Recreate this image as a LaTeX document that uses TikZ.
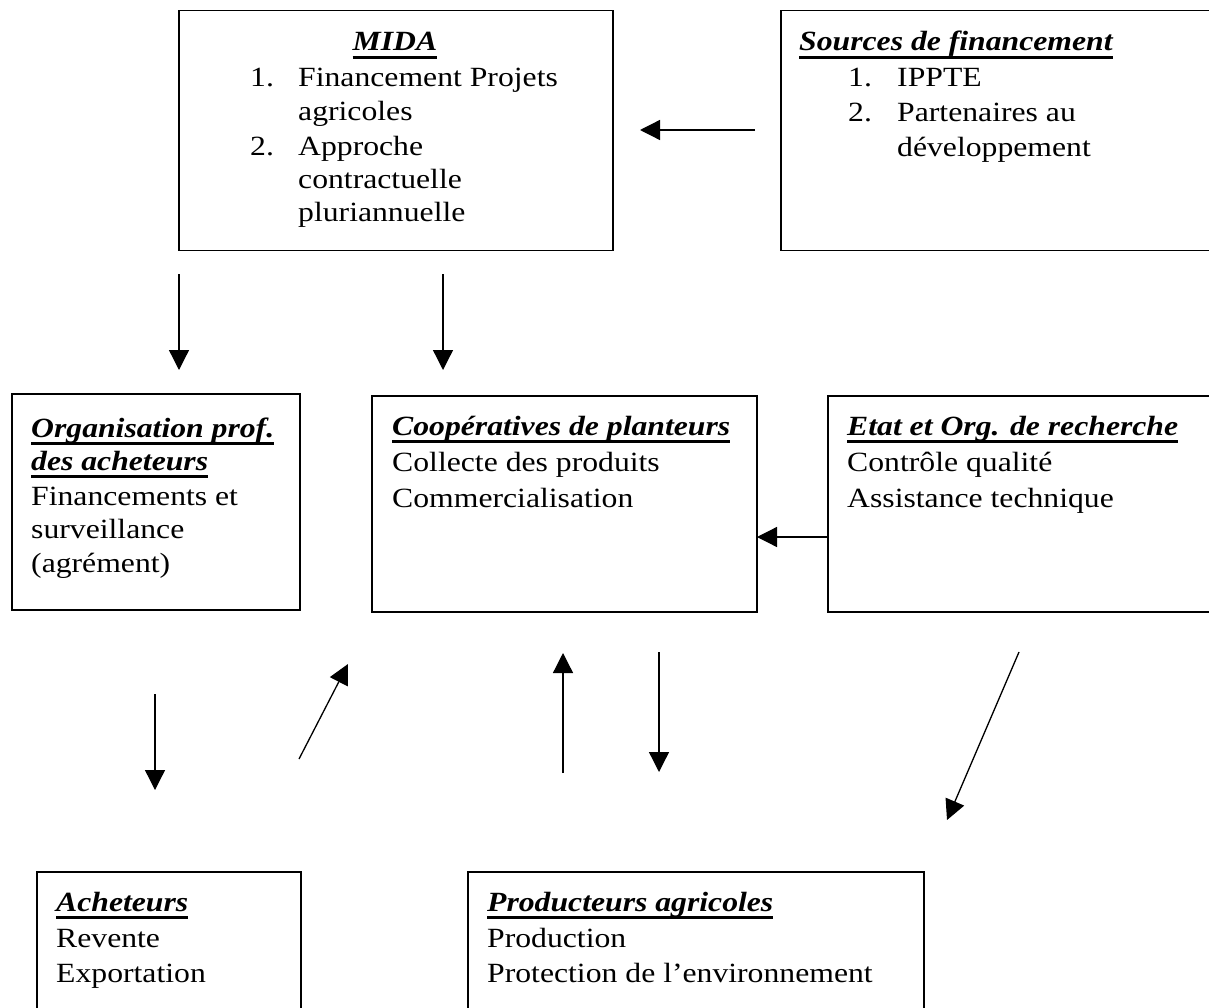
\documentclass[tikz,border=0pt]{standalone}
\usepackage{fontspec}
\setmainfont{Liberation Serif}[FakeStretch=1.14]
\usetikzlibrary{arrows.meta}
\newsavebox\ulbox
\newcommand\ulhead[1]{\sbox\ulbox{\bfseries\itshape #1}\rlap{\rule[-8pt]{\wd\ulbox}{2.7pt}}\usebox\ulbox}
\tikzset{
  box/.style={draw, line width=1.5pt, rectangle, anchor=north west, inner sep=0pt},
  txt/.style={anchor=base west, inner sep=0pt, font=\fontsize{27.8}{34}\selectfont},
  arr/.style={line width=1.3pt, -{Triangle[length=20pt,width=20pt]}}
}
\begin{document}
\begin{tikzpicture}[x=1pt,y=-1pt]
\useasboundingbox (0,0) rectangle (1209,1008);
\clip (0,0) rectangle (1209,1008);
% boxes
\node[box, minimum width=434pt, minimum height=240pt] (mida) at (178,10) {};
\node[box, minimum width=440pt, minimum height=240pt] (src) at (780,10) {};
\node[box, minimum width=288pt, minimum height=216pt] (org) at (11,393) {};
\node[box, minimum width=385pt, minimum height=216pt] (coop) at (371,395) {};
\node[box, minimum width=390pt, minimum height=216pt] (etat) at (827,395) {};
\node[box, minimum width=264pt, minimum height=200pt] (ach) at (36,871) {};
\node[box, minimum width=456pt, minimum height=200pt] (prod) at (467,871) {};
% MIDA
\node[txt, anchor=base] (midaT) at (395,51) {\ulhead{MIDA}};
\node[txt] (midaN1) at (250,87) {1.};
\node[txt] (midaL1) at (298,87) {Financement Projets};
\node[txt] (midaL2) at (298,121) {agricoles};
\node[txt] (midaN2) at (250,156) {2.};
\node[txt] (midaL3) at (298,156) {Approche};
\node[txt] (midaL4) at (298,189) {contractuelle};
\node[txt] (midaL5) at (298,222) {pluriannuelle};
% Sources
\node[txt] (srcT) at (799,51) {\ulhead{Sources de financement}};
\node[txt] (srcN1) at (848,87) {1.};
\node[txt] (srcL1) at (897,87) {IPPTE};
\node[txt] (srcN2) at (848,122) {2.};
\node[txt] (srcL2) at (897,122) {Partenaires au};
\node[txt] (srcL3) at (897,157) {développement};
% Organisation
\node[txt] (orgT1) at (31,437) {\ulhead{Organisation prof.}};
\node[txt] (orgT2) at (31,470) {\ulhead{des acheteurs}};
\node[txt] (orgL1) at (31,505) {Financements et};
\node[txt] (orgL2) at (31,538) {surveillance};
\node[txt] (orgL3) at (31,572) {(agrément)};
% Cooperatives
\node[txt] (coopT) at (392,435) {\ulhead{Coopératives de planteurs}};
\node[txt] (coopL1) at (392,471) {Collecte des produits};
\node[txt] (coopL2) at (392,507) {Commercialisation};
% Etat
\node[txt] (etatT) at (847,435) {\ulhead{Etat et Org. de recherche}};
\node[txt] (etatL1) at (847,471) {Contrôle qualité};
\node[txt] (etatL2) at (847,507) {Assistance technique};
% Acheteurs
\node[txt] (achT) at (56,911) {\ulhead{Acheteurs}};
\node[txt] (achL1) at (56,947) {Revente};
\node[txt] (achL2) at (56,982) {Exportation};
% Producteurs
\node[txt] (prodT) at (487,911) {\ulhead{Producteurs agricoles}};
\node[txt] (prodL1) at (487,947) {Production};
\node[txt] (prodL2) at (487,982) {Protection de l’environnement};
% arrow end points
\coordinate (a1s) at (755,130);  \coordinate (a1e) at (640,130);
\coordinate (a2s) at (179,274);  \coordinate (a2e) at (179,370);
\coordinate (a3s) at (443,274);  \coordinate (a3e) at (443,370);
\coordinate (a4s) at (etat.west |- 0,537); \coordinate (a4e) at (757,537);
\coordinate (a5s) at (155,694);  \coordinate (a5e) at (155,790);
\coordinate (a6s) at (299,759);  \coordinate (a6e) at (348,664);
\coordinate (a7s) at (563,773);  \coordinate (a7e) at (563,653);
\coordinate (a8s) at (659,652);  \coordinate (a8e) at (659,772);
\coordinate (a9s) at (1019,652); \coordinate (a9e) at (947,820);
\draw[arr] (a1s) -- (a1e);
\draw[arr] (a2s) -- (a2e);
\draw[arr] (a3s) -- (a3e);
\draw[arr] (a4s) -- (a4e);
\draw[arr] (a5s) -- (a5e);
\draw[arr] (a6s) -- (a6e);
\draw[arr] (a7s) -- (a7e);
\draw[arr] (a8s) -- (a8e);
\draw[arr] (a9s) -- (a9e);
\end{tikzpicture}
\end{document}
